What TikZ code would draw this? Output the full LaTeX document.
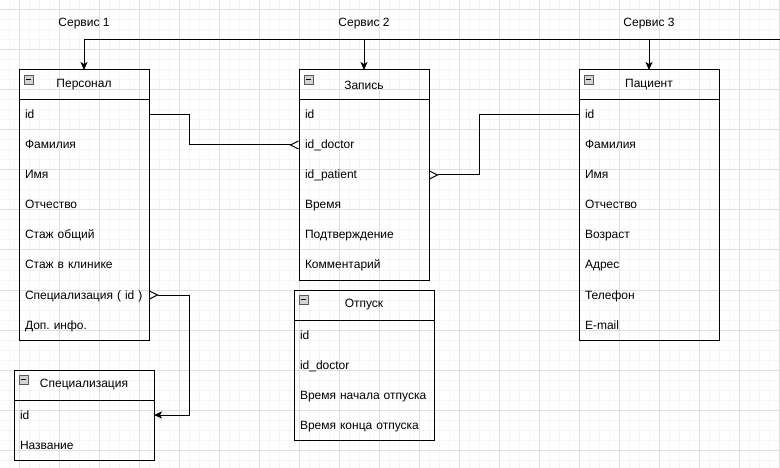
\documentclass[tikz,border=0pt]{standalone}
\usepackage{fontspec}
\setmainfont{Liberation Sans}
\frenchspacing
\usetikzlibrary{positioning,arrows.meta}

\tikzset{
  hdr/.style={draw, line width=1pt, minimum height=30pt, inner sep=0pt, outer sep=0pt},
  fld/.style={minimum height=30pt, inner xsep=6pt, inner ysep=0pt, outer sep=0pt, text width=#1,
    text height=10pt, text depth=2pt, align=left},
  fld/.default=118pt,
  link/.style={line width=1pt},
  crowfoot/.tip={Straight Barb[reversed, length=8pt, width=8pt]},
  arrhead/.tip={Stealth[length=8pt, width=7pt, inset=2pt]},
  minor/.style={gray!8, line width=1pt},
  major/.style={gray!25, line width=1pt},
}

\begin{document}
\begin{tikzpicture}[x=1pt, y=-1pt, font=\fontsize{12}{14}\selectfont]
	\useasboundingbox (0,0) rectangle (780,468);
	% griglia
	\foreach \x in {9,19,...,779} \draw[minor] (\x,0) -- (\x,468);
	\foreach \y in {0,10,...,460} \draw[minor] (0,\y) -- (780,\y);
	\foreach \x in {19,59,...,779} \draw[major] (\x,0) -- (\x,468);
	\foreach \y in {10,50,...,450} \draw[major] (0,\y) -- (780,\y);

	% tabelle
	\node[hdr, minimum width=130pt] (pers-0) at (84,85) {Персонал};
	\foreach \t [count=\i, remember=\i as \j (initially 0)] in {id, Фамилия, Имя, Отчество, Стаж общий, Стаж в клинике, Специализация ( id ), Доп. инфо.}
		\node[fld, below=0pt of pers-\j] (pers-\i) {\t};
	\draw[line width=1pt] (pers-0.south west) rectangle (pers-8.south east);

	\node[hdr, minimum width=130pt] (zap-0) at (364,85) {Запись};
	\foreach \t [count=\i, remember=\i as \j (initially 0)] in {id, id\_doctor, id\_patient, Время, Подтверждение, Комментарий}
		\node[fld, below=0pt of zap-\j] (zap-\i) {\t};
	\draw[line width=1pt] (zap-0.south west) rectangle (zap-6.south east);

	\node[hdr, minimum width=140pt] (pac-0) at (649,85) {Пациент};
	\foreach \t [count=\i, remember=\i as \j (initially 0)] in {id, Фамилия, Имя, Отчество, Возраст, Адрес, Телефон, E-mail}
		\node[fld=128pt, below=0pt of pac-\j] (pac-\i) {\t};
	\draw[line width=1pt] (pac-0.south west) rectangle (pac-8.south east);

	\node[hdr, minimum width=140pt] (spec-0) at (84,385) {Специализация};
	\foreach \t [count=\i, remember=\i as \j (initially 0)] in {id, Название}
		\node[fld=128pt, below=0pt of spec-\j] (spec-\i) {\t};
	\draw[line width=1pt] (spec-0.south west) rectangle (spec-2.south east);

	\node[hdr, minimum width=140pt] (otp-0) at (364,305) {Отпуск};
	\foreach \t [count=\i, remember=\i as \j (initially 0)] in {id, id\_doctor, Время начала отпуска, Время конца отпуска}
		\node[fld=128pt, below=0pt of otp-\j] (otp-\i) {\t};
	\draw[line width=1pt] (otp-0.south west) rectangle (otp-4.south east);

	% icone
	\foreach \h in {pers-0, zap-0, pac-0, spec-0, otp-0} {
		\draw[gray!70!black, fill=gray!35] ([shift={(5,5)}]\h.north west) rectangle ++(9,9);
		\draw[line width=0.8pt] ([shift={(7,9.5)}]\h.north west) -- ++(5,0);
	}

	% servizi
	\coordinate (bus) at (780,40);
	\node (svc-1) at (84,24) {Сервис 1};
	\node (svc-2) at (364,24) {Сервис 2};
	\node (svc-3) at (649,24) {Сервис 3};
	\draw[link, -arrhead] (bus) -| (pers-0.north);
	\draw[link, -arrhead] (zap-0.north |- bus) -- (zap-0.north);
	\draw[link, -arrhead] (pac-0.north |- bus) -- (pac-0.north);

	% relazioni
	\draw[link, -crowfoot] (pers-1.east) -- ++(40,0) |- (zap-2.west);
	\draw[link, -crowfoot] (pac-1.west) -- ++(-100,0) |- (zap-3.east);
	\draw[link, crowfoot-arrhead] (pers-7.east) -- ++(40,0) |- (spec-1.east);
\end{tikzpicture}
\end{document}
